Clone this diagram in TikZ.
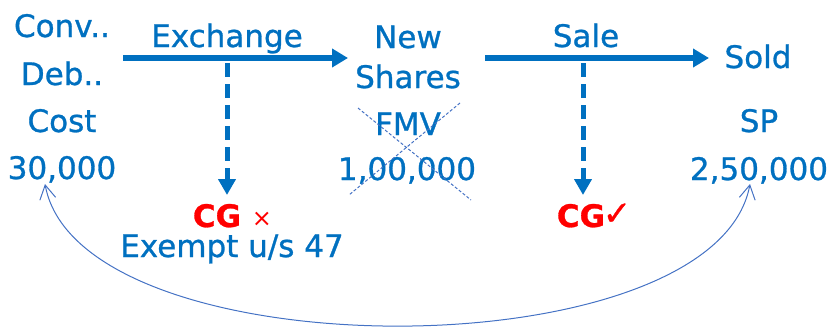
\documentclass[tikz,border=0pt]{standalone}
\usepackage{fontspec}
\setmainfont{DejaVu Sans}[FakeBold=0.9]
\newfontfamily\symfont{DejaVu Sans}
\usetikzlibrary{arrows.meta}
\definecolor{tblue}{HTML}{0070C0}
\definecolor{lblue}{HTML}{4472C4}
\definecolor{tred}{HTML}{FF0000}
\begin{document}
\begin{tikzpicture}[x=1pt,y=-1pt,
  lbl/.style={font=\fontsize{31}{34}\selectfont, text=tblue, inner sep=0pt, anchor=base},
  cg/.style={font=\fontsize{31}{34}\selectfont\bfseries, text=tred, inner sep=0pt, anchor=base},
  flow/.style={draw=tblue, line width=5.5pt, -{Triangle[length=16pt,width=18pt]}},
  dflow/.style={draw=tblue, line width=5pt, dash pattern=on 14pt off 7pt, -{Triangle[length=16pt,width=17pt]}},
  xline/.style={draw=lblue, line width=1pt, dash pattern=on 3pt off 2pt},
  loop/.style={draw=lblue, line width=1pt, {Straight Barb[length=14pt,width=16pt]}-{Straight Barb[length=14pt,width=16pt]}}]
\useasboundingbox (0,0) rectangle (828,330);
% left column
\node[lbl] (conv) at (62,37) {Conv..};
\node[lbl] (deb) at (62,85) {Deb..};
\node[lbl] (cost) at (62,132) {Cost};
\node[lbl] (c30) at (62,179) {30,000};
% middle column
\node[lbl] (new) at (408,48) {New};
\node[lbl] (shares) at (408,88) {Shares};
\node[lbl] (fmv) at (408,135) {FMV};
\node[lbl] (f100) at (407,180) {1,00,000};
% right column
\node[lbl] (sold) at (758,68) {Sold};
\node[lbl] (sp) at (759,132) {SP};
\node[lbl] (s250) at (759,180) {2,50,000};
% arrow labels
\node[lbl] (exch) at (227,47) {Exchange};
\node[lbl] (sale) at (586,47) {Sale};
% CG results
\node[cg] (cg1) at (217,227) {CG};
\node[inner sep=0pt, anchor=base, text=tred, font=\symfont\fontsize{24}{26}\selectfont] (x1) at (262,226) {×};
\node[lbl] (exempt) at (232,257) {Exempt u/s 47};
\node[cg] (cg2) at (581,227) {CG};
\node[inner sep=0pt, anchor=base, text=tred, font=\fontsize{34}{36}\selectfont] (ok) at (617,225) {✓};
% arrow end points
\coordinate (a1s) at (123,58);
\coordinate (a1e) at (348,58);
\coordinate (a2s) at (485,58);
\coordinate (a2e) at (709,58);
\coordinate (d1s) at (227,63);
\coordinate (d1e) at (227,195);
\coordinate (d2s) at (583,63);
\coordinate (d2e) at (583,195);
\draw[flow] (a1s) -- (a1e);
\draw[flow] (a2s) -- (a2e);
\draw[dflow] (d1s) -- (d1e);
\draw[dflow] (d2s) -- (d2e);
% cross over FMV
\coordinate (xa) at (358,108);
\coordinate (xb) at (471,200);
\coordinate (xc) at (460,103);
\coordinate (xd) at (349,195);
\draw[xline] (xa) -- (xb);
\draw[xline] (xc) -- (xd);
% loop curve
\coordinate (la) at (45,184);
\coordinate (lb) at (750,184);
\draw[loop] (la) .. controls (80,373) and (715,373) .. (lb);
\end{tikzpicture}
\end{document}
